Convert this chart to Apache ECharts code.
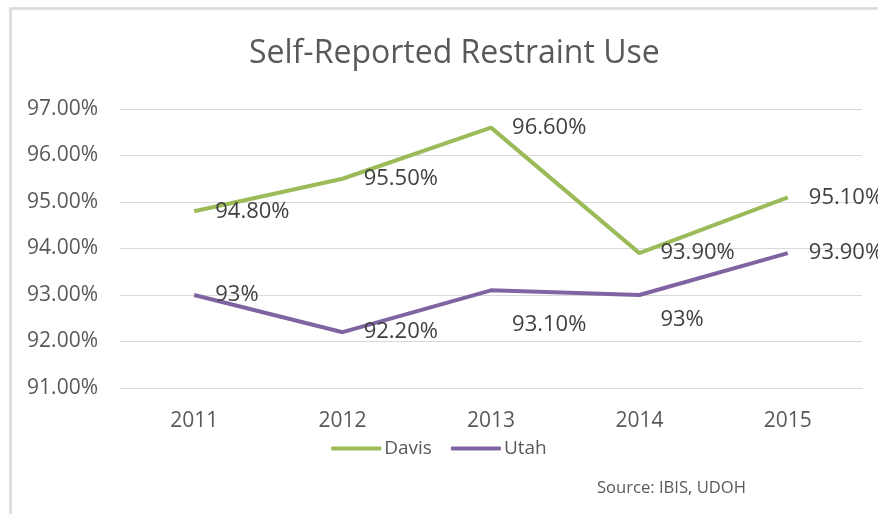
<!DOCTYPE html>
<html>
<head>
<meta charset="utf-8">
<script src="https://cdn.jsdelivr.net/npm/echarts@6/dist/echarts.min.js"></script>
<style>html,body{margin:0;padding:0;background:#fff;}#c{width:878px;height:514px;}</style>
</head>
<body>
<div id="c"></div>
<script>
var categories = ['2011', '2012', '2013', '2014', '2015'];
var davis = [94.8, 95.5, 96.6, 93.9, 95.1];
var utah = [93.0, 92.2, 93.1, 93.0, 93.9];
var yTicks = [91, 92, 93, 94, 95, 96, 97];

var FONT = '"Open Sans"';
function pct(v) { return (Math.round(v * 100) % 100 === 0 ? String(Math.round(v)) : v.toFixed(2)) + '%'; }

var utahLabelShift = {2: 34, 3: 25};
var chart = echarts.init(document.getElementById('c'));
chart.setOption({
  animation: false,
  backgroundColor: '#ffffff',
  textStyle: { fontFamily: FONT },
  title: {
    text: 'Self-Reported Restraint Use',
    left: 244, top: 33,
    textStyle: { fontFamily: FONT, fontSize: 32, fontWeight: 'normal', color: '#595959' }
  },
  legend: {
    bottom: 51, left: 'center',
    icon: 'roundRect', itemWidth: 50, itemHeight: 4, itemGap: 19,
    textStyle: { fontFamily: FONT, fontSize: 19, color: '#595959', padding: [0, 0, 0, -2] },
    data: ['Davis', 'Utah']
  },
  grid: { left: 120, right: 16, top: 109, bottom: 126, containLabel: false },
  xAxis: {
    type: 'category', data: categories, boundaryGap: true,
    axisLine: { show: true, lineStyle: { color: '#d9d9d9', width: 1 } },
    axisTick: { show: false },
    axisLabel: { fontFamily: FONT, fontSize: 21, color: '#595959', margin: 23 }
  },
  yAxis: {
    type: 'value', min: yTicks[0], max: yTicks[yTicks.length - 1], interval: 1,
    axisLine: { show: false }, axisTick: { show: false },
    splitLine: { lineStyle: { color: '#d9d9d9', width: 1 } },
    axisLabel: { fontFamily: FONT, fontSize: 21, color: '#595959', margin: 22,
      formatter: function (v) { return v.toFixed(2) + '%'; } }
  },
  series: [
    {
      name: 'Davis', type: 'line', data: davis,
      symbol: 'circle', symbolSize: 0.1, showSymbol: true,
      lineStyle: { color: '#9BBB59', width: 4 }, itemStyle: { color: '#9BBB59' },
      label: { show: true, position: 'right', distance: 21, fontFamily: FONT, fontSize: 22, color: '#404040',
        formatter: function (p) { return pct(p.value); } }
    },
    {
      name: 'Utah', type: 'line',
      data: utah.map(function (v, i) {
        var d = { value: v };
        if (utahLabelShift[i]) d.label = { offset: [0, utahLabelShift[i]] };
        return d;
      }),
      symbol: 'circle', symbolSize: 0.1, showSymbol: true,
      lineStyle: { color: '#8064A2', width: 4 }, itemStyle: { color: '#8064A2' },
      label: { show: true, position: 'right', distance: 21, fontFamily: FONT, fontSize: 22, color: '#404040',
        formatter: function (p) { return pct(p.value); } }
    }
  ],
  graphic: [
    { type: 'rect', left: 8, top: 6, shape: { width: 1000, height: 1000 },
      style: { fill: 'none', stroke: '#d9d9d9', lineWidth: 2.5 }, silent: true, z: -1 },
    { type: 'text', left: 597, top: 480,
      style: { text: 'Source: IBIS, UDOH', fontFamily: FONT, fontSize: 16.6, fill: '#595959' } }
  ]
});
</script>
</body>
</html>
